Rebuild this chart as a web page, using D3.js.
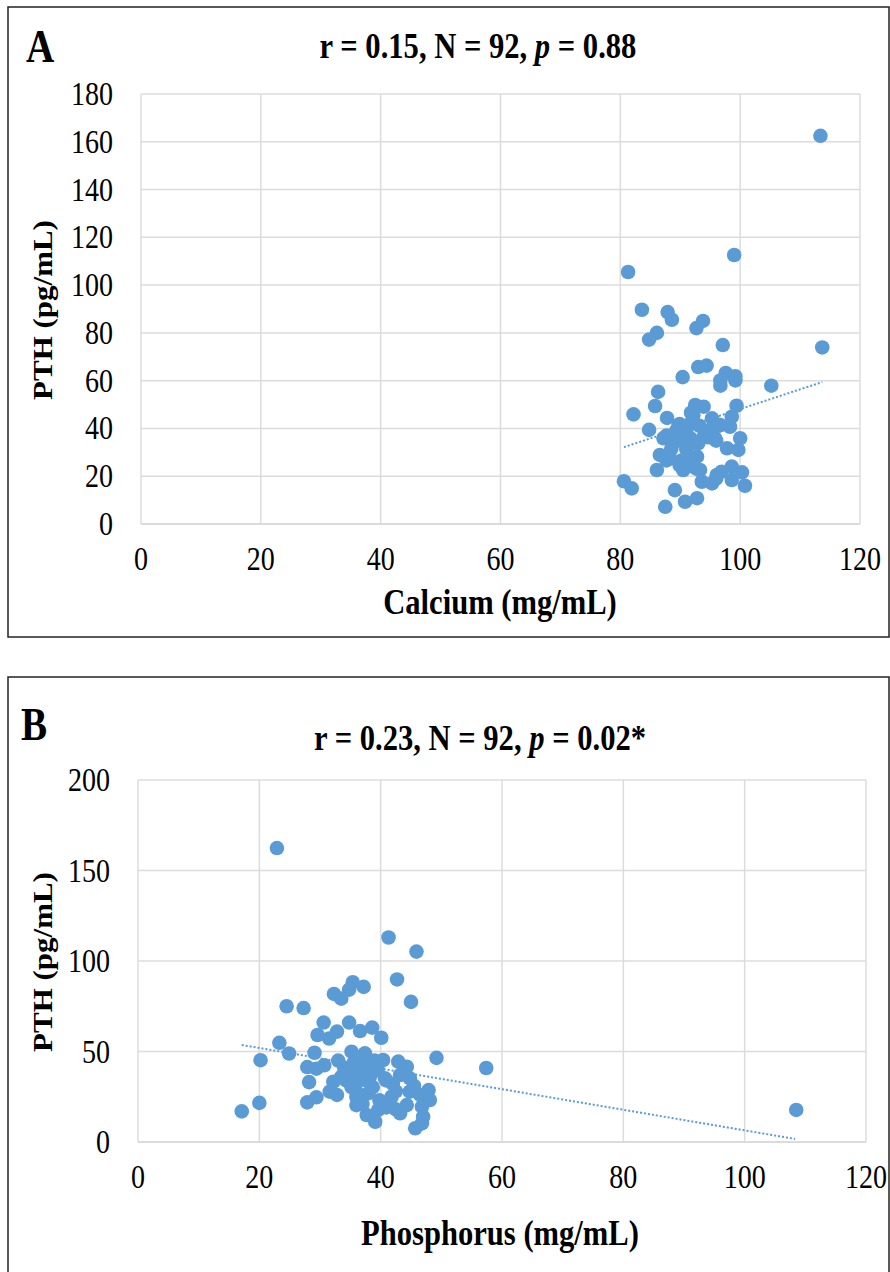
<!DOCTYPE html>
<html><head><meta charset="utf-8">
<script src="https://cdn.jsdelivr.net/npm/d3@7"></script>
<style>body{margin:0;background:#fff}svg{display:block}</style>
</head><body>
<svg id="c" width="890" height="1272"></svg>
<script>
// ---------- data ----------
const xTicks = [0, 20, 40, 60, 80, 100, 120];
const yTicksA = [0, 20, 40, 60, 80, 100, 120, 140, 160, 180];
const yTicksB = [0, 50, 100, 150, 200];

const titleA = ["r = 0.15, N = 92, ", "p", " = 0.88"];
const titleB = ["r = 0.23, N = 92, ", "p", " = 0.02*"];

const calcium = [113.4, 99, 81.3, 83.6, 87.9, 88.6, 93.8, 92.7, 86.1, 84.8, 97.1, 113.7, 94.4, 93, 90.4, 97.6, 99.2, 96.7, 96.7, 99.2, 105.2, 86.3, 85.8, 82.2, 84.8, 87.8,
  92.5, 93.9, 99.4, 98.6, 98.3, 92.2, 91.9, 95.3, 96.7, 89.7, 90.5, 87.2, 88.9, 91.7, 93.9, 95.8, 93, 97.8, 100, 99.7, 86.6, 88.3, 86.1, 90.3, 92.8, 90.5, 92.2, 93.3, 93.6, 95.3, 96.9, 98.6, 98.6, 100.3, 100.8, 89.1, 90.8, 92.8, 87.5, 96.1,
  80.6, 81.9,
  89.9, 91, 93.2, 89.3, 89, 90.4, 91.6, 94.3, 95.2, 96.3, 95.7, 94.6, 96, 91, 88.5, 90.2, 91.6, 87.7, 87.7, 91.8, 92.1, 89.9, 92.7, 96];
const pthA = [162.5, 112.6, 105.5, 89.7, 88.7, 85.5, 85, 82, 80, 77.2, 74.9, 73.9, 66.3, 65.7, 61.5, 63.2, 61.8, 60.1, 57.9, 60.1, 57.9, 55.3, 49.4, 45.9, 39.4, 44.4,
  49.8, 49.1, 49.5, 44.9, 40.7, 45.6, 42.8, 44.2, 41.4, 41.4, 39.3, 35.9, 34.5, 35.9, 36.5, 35.9, 33.8, 31.7, 35.9, 31, 28.9, 27.5, 22.6, 26.1, 28.2, 22.6, 24, 22.6, 17.7, 17, 21.9, 24, 18.4, 21.6, 16, 14.2, 9.3, 10.8, 7.2, 20.5,
  17.9, 14.9,
  41.8, 39, 41.1, 39, 34.2, 35.6, 33.5, 38.3, 39.7, 41.1, 35.6, 36.3, 34.9, 31.4, 31.4, 26.6, 25.9, 26.6, 37, 46.6, 42.5, 24.6, 23.2, 19];

const phosphorus = [22.9, 41.3, 45.9, 42.7, 45, 24.5, 27.3, 32.3, 33.5, 35.4, 37.2, 34.8, 30.6, 29.6, 31.5, 32.8, 34.8, 36.6, 38.6, 40.1, 23.3, 24.9, 20.2, 17.1, 20, 29.1, 27.9, 29.4, 30.7, 28.2, 27.9, 29.4, 49.2, 57.4, 108.5,
  35.2, 37.4, 40.4, 42.9, 44.3, 35.5, 37.7, 34.7, 32.2, 31.6, 32.8, 36, 38.2, 40.7, 43.2, 44.8, 36, 36, 41, 41.8, 37.7, 39.1, 39.6, 43.2, 44.3, 44.8, 46.5, 47.9, 46.8, 45.7, 46.8, 48.1,
  35.7, 35.2, 36.3, 37.6, 38.7, 40.9, 42, 40.9, 39.8, 34.3, 36.9,
  33.5, 38.5, 39.5, 36.5, 34, 38, 42.5, 39, 33, 45.5, 37, 42.5, 47];
const pthB = [162.4, 113, 105.2, 89.8, 77.4, 75, 74, 81.8, 79.2, 88.3, 85.7, 84.2, 66, 59.1, 57.2, 61, 66, 61.3, 63.2, 57.6, 54.8, 48.9, 45.2, 16.9, 21.6, 49.3, 41.4, 40.5, 42.4, 33.1, 21.9, 24.7, 46.5, 40.9, 17.7,
  49.9, 49, 45.3, 44.4, 41.6, 43.5, 41.6, 38, 33.3, 27.8, 26, 32.4, 36.1, 35.2, 37, 35.2, 25, 20.4, 21.4, 25, 14.9, 11.2, 17.7, 15.9, 20.4, 27.8, 26, 28.7, 19.5, 7.6, 10.3, 23.2,
  39.6, 30.3, 26.6, 34, 30.3, 34, 32.2, 19.1, 23, 34, 37.7,
  36, 38, 40, 44, 41, 27, 28, 45, 45, 31, 21, 18, 14];

// trend line end points (as drawn in the source)
const trendAx = [80.6, 113.7], trendAy = [32.2, 59.4];
const trendBx = [17.1, 108.3], trendBy = [53.6, 1.7];

// ---------- drawing ----------
const svg = d3.select("#c");
const BLUE = "#5b9bd5";
const SERIF = "'Liberation Serif','Times New Roman',serif";
const SX = 0.85;

function txt(g, x, y, parts, size, weight, anchor, rot) {
  const t = g.append("text")
    .attr("transform", `translate(${x},${y}) rotate(${rot||0}) scale(${rot ? 1 : SX},${rot ? SX : 1})`)
    .attr("font-family", SERIF).attr("font-size", size).attr("font-weight", weight)
    .attr("text-anchor", anchor).attr("fill", "#000");
  if (typeof parts === "string") parts = [parts];
  parts.forEach((p, i) => {
    const s = t.append("tspan").text(p);
    if (parts.length === 3 && i === 1) s.attr("font-style", "italic");
  });
  return t;
}

function panel(o) {
  const g = svg.append("g");
  g.append("rect").attr("x", o.frame[0]).attr("y", o.frame[1]).attr("width", o.frame[2]).attr("height", o.frame[3])
    .attr("fill", "none").attr("stroke", "#222").attr("stroke-width", 1.5);
  const x = d3.scaleLinear().domain([0, 120]).range([o.left, o.right]);
  const y = d3.scaleLinear().domain([0, o.ymax]).range([o.bottom, o.top]);

  // grid
  g.append("g").selectAll("line").data(o.yTicks).join("line")
    .attr("x1", o.left).attr("x2", o.right).attr("y1", d => y(d)).attr("y2", d => y(d))
    .attr("stroke", d => d === 0 ? "#cfcfcf" : "#dcdcdc").attr("stroke-width", 1.5);
  g.append("g").selectAll("line").data(xTicks).join("line")
    .attr("y1", o.top).attr("y2", o.bottom).attr("x1", d => x(d)).attr("x2", d => x(d))
    .attr("stroke", "#dcdcdc").attr("stroke-width", 1.5);

  // tick labels
  o.yTicks.forEach(d => txt(g, o.left - 28, y(d) + 11, String(d), 33, "normal", "end"));
  xTicks.forEach(d => txt(g, x(d), o.bottom + 46, String(d), 33, "normal", "middle"));

  // points
  const pts = o.xs.map((v, i) => [v, o.ys[i]]);
  g.append("g").selectAll("circle").data(pts).join("circle")
    .attr("cx", d => x(d[0])).attr("cy", d => y(d[1])).attr("r", 7.3).attr("fill", BLUE);

  // trend line
  g.append("line").attr("x1", x(o.tx[0])).attr("y1", y(o.ty[0])).attr("x2", x(o.tx[1])).attr("y2", y(o.ty[1]))
    .attr("stroke", BLUE).attr("stroke-width", 2).attr("stroke-dasharray", "2,2");

  // titles
  txt(g, o.letterPos[0], o.letterPos[1], o.letter, 46, "bold", "start");
  txt(g, o.titlePos[0], o.titlePos[1], o.title, 36, "bold", "middle");
  txt(g, o.xTitlePos[0], o.xTitlePos[1], o.xTitle, 36, "bold", "middle");
  txt(g, o.yTitlePos[0], o.yTitlePos[1], "PTH (pg/mL)", 31, "bold", "middle", -90);
}

panel({
  frame: [8, 7, 881, 630], left: 141, right: 860, top: 94, bottom: 524, ymax: 180, yTicks: yTicksA,
  xs: calcium, ys: pthA, tx: trendAx, ty: trendAy,
  letter: "A", letterPos: [26, 62], title: titleA, titlePos: [478, 58],
  xTitle: "Calcium (mg/mL)", xTitlePos: [500, 614], yTitlePos: [52, 310]
});
panel({
  frame: [8, 677, 881, 610], left: 138, right: 866, top: 780, bottom: 1142, ymax: 200, yTicks: yTicksB,
  xs: phosphorus, ys: pthB, tx: trendBx, ty: trendBy,
  letter: "B", letterPos: [21, 740], title: titleB, titlePos: [480, 750],
  xTitle: "Phosphorus (mg/mL)", xTitlePos: [500, 1245], yTitlePos: [52, 962]
});
</script>
</body></html>
